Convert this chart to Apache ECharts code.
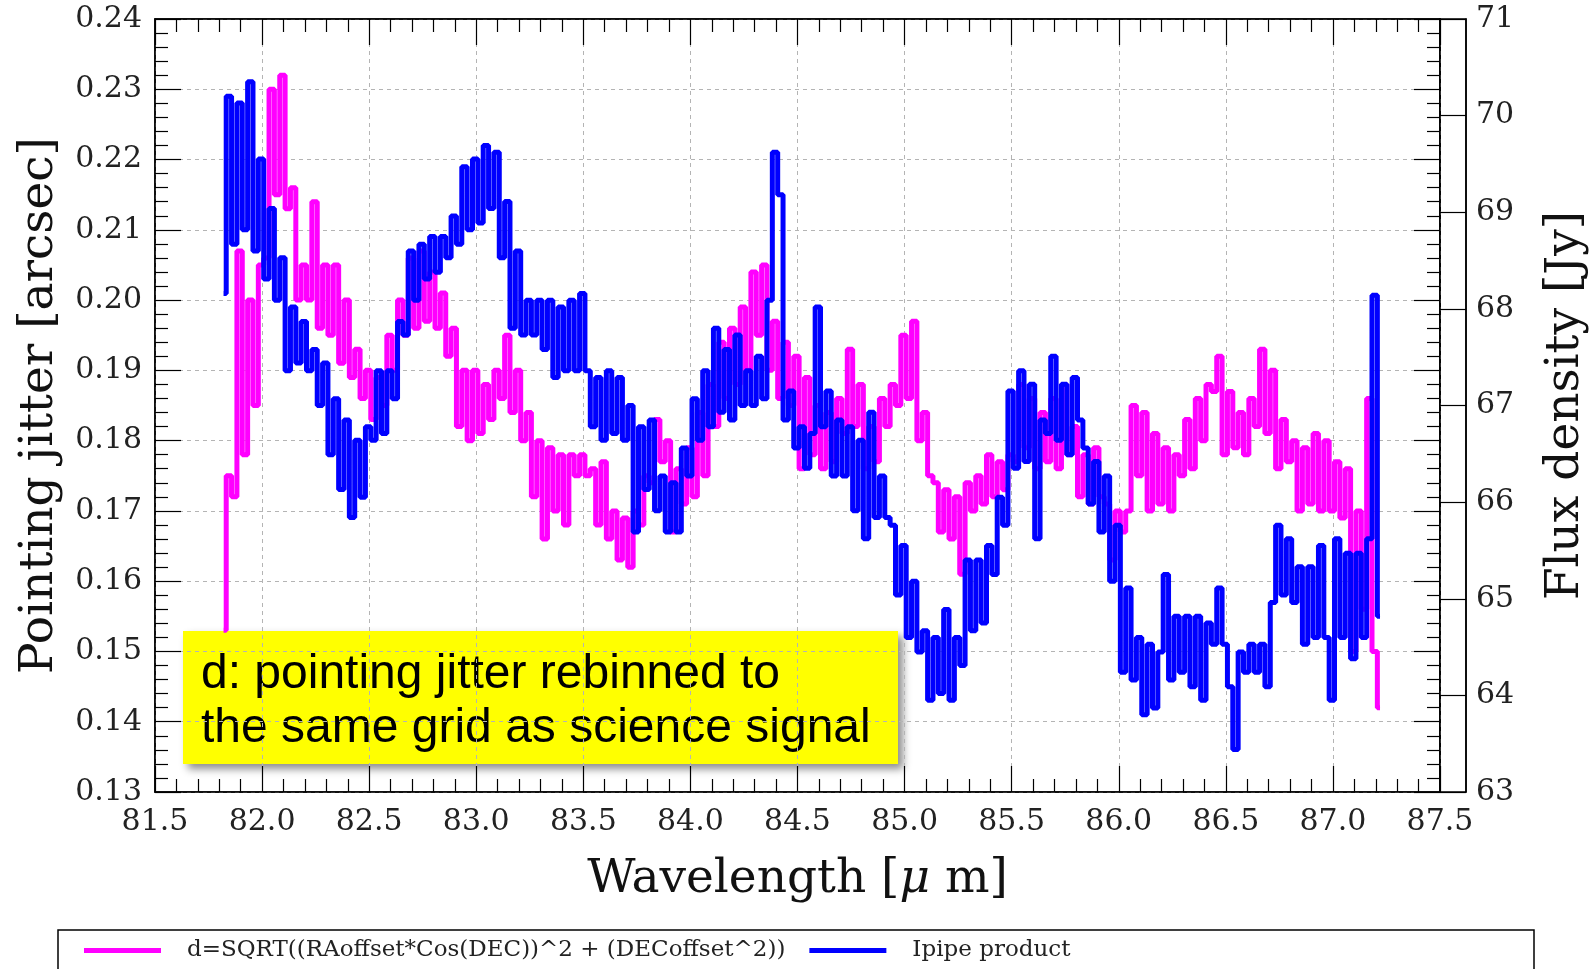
<!DOCTYPE html>
<html>
<head>
<meta charset="utf-8">
<script src="https://cdn.jsdelivr.net/npm/echarts@6/dist/echarts.min.js"></script>
<style>
html,body{margin:0;padding:0;background:#fff;}
#chart{width:1593px;height:969px;}
</style>
</head>
<body>
<div id="chart"></div>
<script>
// Wavelength grid (µm): first bin and bin width of the rebinned grid
const wlStart = 81.82;
const wlStep = 0.025;

// Pointing jitter d [arcsec] (left axis)
const jitter = [
0.153,0.175,0.172,0.207,0.178,0.200,0.185,0.205,0.206,0.230,
0.215,0.232,0.213,0.216,0.200,0.205,0.200,0.214,0.196,0.205,
0.195,0.205,0.191,0.200,0.189,0.193,0.186,0.190,0.183,0.189,
0.185,0.195,0.190,0.200,0.195,0.206,0.196,0.207,0.197,0.204,
0.196,0.201,0.192,0.196,0.182,0.190,0.180,0.190,0.181,0.188,
0.183,0.190,0.186,0.195,0.184,0.190,0.180,0.184,0.172,0.180,
0.166,0.179,0.170,0.178,0.168,0.178,0.175,0.178,0.175,0.176,
0.168,0.177,0.166,0.170,0.163,0.169,0.162,0.170,0.168,0.175,
0.174,0.183,0.177,0.180,0.167,0.176,0.171,0.179,0.172,0.184,
0.175,0.188,0.182,0.194,0.186,0.196,0.188,0.199,0.190,0.204,
0.195,0.205,0.190,0.197,0.186,0.194,0.185,0.192,0.176,0.189,
0.178,0.185,0.176,0.184,0.177,0.186,0.181,0.193,0.182,0.188,
0.176,0.182,0.177,0.186,0.182,0.188,0.185,0.195,0.186,0.197,
0.180,0.184,0.175,0.174,0.167,0.173,0.166,0.172,0.161,0.174,
0.170,0.175,0.171,0.178,0.172,0.177,0.173,0.178,0.177,0.188,
0.179,0.186,0.176,0.184,0.177,0.186,0.176,0.188,0.178,0.182,
0.172,0.178,0.171,0.179,0.172,0.171,0.163,0.170,0.167,0.170,
0.185,0.175,0.184,0.170,0.181,0.171,0.179,0.170,0.178,0.175,
0.183,0.176,0.186,0.180,0.188,0.187,0.192,0.178,0.187,0.179,
0.184,0.178,0.186,0.182,0.193,0.181,0.190,0.176,0.183,0.177,
0.180,0.170,0.179,0.171,0.181,0.170,0.180,0.170,0.177,0.169,
0.176,0.150,0.170,0.156,0.186,0.150,0.142
];

// Ipipe product flux density [Jy] (right axis)
const flux = [
68.16,70.20,68.67,70.13,68.82,70.35,68.60,69.55,68.31,69.04,
68.09,68.53,67.36,68.02,67.44,67.87,67.36,67.58,67.00,67.44,
66.49,67.07,66.13,66.85,65.84,66.64,66.05,66.78,66.64,67.36,
66.71,67.36,67.07,67.87,67.73,68.60,68.09,68.67,68.31,68.75,
68.38,68.75,68.53,68.96,68.67,69.47,68.82,69.55,68.89,69.69,
69.04,69.62,68.53,69.11,67.80,68.60,67.73,68.09,67.73,68.09,
67.58,68.09,67.29,68.02,67.36,68.09,67.36,68.16,67.36,66.78,
67.29,66.64,67.36,66.71,67.29,66.64,67.00,65.69,66.78,66.13,
66.85,65.91,66.27,65.69,66.20,65.69,66.56,66.27,67.07,66.64,
67.36,66.78,67.80,66.93,67.58,66.85,67.73,67.00,67.36,67.00,
67.51,67.07,68.09,69.62,69.18,66.85,67.15,66.56,66.78,66.35,
66.71,68.02,66.78,67.15,66.27,66.85,66.27,66.78,65.91,66.64,
65.62,66.93,65.84,66.27,65.84,65.76,65.04,65.55,64.60,65.18,
64.45,64.67,63.95,64.60,64.02,64.89,63.95,64.60,64.31,65.40,
64.67,65.40,64.75,65.55,65.25,66.05,65.76,67.15,66.35,67.36,
66.42,67.22,65.62,66.85,66.71,67.51,66.64,67.22,66.49,67.29,
66.85,66.56,65.98,66.42,65.69,66.27,65.18,65.76,64.24,65.11,
64.16,64.60,63.80,64.53,63.87,64.45,65.25,64.16,64.82,64.24,
64.82,64.09,64.82,63.95,64.75,64.53,65.11,64.53,64.09,63.44,
64.45,64.24,64.53,64.24,64.53,64.09,64.96,65.76,65.04,65.62,
64.96,65.33,64.53,65.33,64.60,65.55,64.60,63.95,65.62,64.60,
65.47,64.38,65.47,64.60,65.62,68.14,64.82
];

// Axis ranges / ticks
const xRange = [81.5, 87.5, 0.5];
const yLeftRange = [0.13, 0.24, 0.01];
const yRightRange = [63, 71, 1];

const seriesNames = ['d=SQRT((RAoffset*Cos(DEC))^2 + (DECoffset^2))', 'Ipipe product'];
const annotationText = ['d: pointing jitter rebinned to', 'the same grid as science signal'];
const titles = { x: '{n|Wavelength [}{i|\u03bc}{n| m]}', yLeft: 'Pointing jitter [arcsec]', yRight: 'Flux density [Jy]' };

const toPairs = arr => arr.map((v, i) => [+(wlStart + i * wlStep).toFixed(3), v]);

const SERIF = '"DejaVu Serif", serif';
const SANS = '"Liberation Sans", Arial, Helvetica, sans-serif';
const BLACK = '#000';
const gridLine = () => ({ show: true, lineStyle: { color: '#b4b4b4', width: 1, type: [4, 4] } });
const tickStyle = () => ({ color: BLACK, width: 1.2 });
const axisLineStyle = () => ({ show: true, onZero: false, lineStyle: { color: BLACK, width: 1.5 } });

const chart = echarts.init(document.getElementById('chart'), null, { renderer: 'canvas' });

const option = {
  animation: false,
  backgroundColor: '#fff',
  grid: [
    { left: 155, top: 19, width: 1285, height: 773, show: true, borderColor: BLACK, borderWidth: 1.5, backgroundColor: 'transparent', containLabel: false, outerBoundsMode: 'none' },
    { left: 1440, top: 19, width: 26, height: 773, show: true, borderColor: BLACK, borderWidth: 1.5, backgroundColor: 'transparent', containLabel: false, outerBoundsMode: 'none' }
  ],
  xAxis: [
    {
      type: 'value', gridIndex: 0, position: 'bottom',
      min: xRange[0], max: xRange[1], interval: xRange[2],
      axisLine: axisLineStyle(),
      axisTick: { show: true, inside: true, length: 26, lineStyle: tickStyle() },
      minorTick: { show: true, splitNumber: 5, length: 13, lineStyle: tickStyle() },
      axisLabel: { margin: 15, fontFamily: SERIF, fontSize: 30, color: '#222', formatter: v => v.toFixed(1) },
      splitLine: gridLine(),
      name: titles.x, nameLocation: 'middle', nameGap: 64,
      nameTextStyle: {
        fontFamily: SERIF, fontSize: 47, color: '#111',
        rich: {
          n: { fontFamily: SERIF, fontSize: 47, color: '#111' },
          i: { fontFamily: SERIF, fontSize: 47, color: '#111', fontStyle: 'italic' }
        }
      }
    },
    {
      type: 'value', gridIndex: 0, position: 'top',
      min: xRange[0], max: xRange[1], interval: xRange[2],
      axisLine: axisLineStyle(),
      axisTick: { show: true, inside: true, length: 26, lineStyle: tickStyle() },
      minorTick: { show: true, splitNumber: 5, length: 13, lineStyle: tickStyle() },
      axisLabel: { show: false }, splitLine: { show: false }
    },
    { type: 'value', gridIndex: 1, show: false, min: 0, max: 1 }
  ],
  yAxis: [
    {
      type: 'value', gridIndex: 0, position: 'left',
      min: yLeftRange[0], max: yLeftRange[1], interval: yLeftRange[2],
      axisLine: axisLineStyle(),
      axisTick: { show: true, inside: true, length: 26, lineStyle: tickStyle() },
      minorTick: { show: true, splitNumber: 5, length: 13, lineStyle: tickStyle() },
      axisLabel: { margin: 13, fontFamily: SERIF, fontSize: 30, color: '#222', formatter: v => v.toFixed(2) },
      splitLine: gridLine(),
      name: titles.yLeft, nameLocation: 'middle', nameRotate: 90, nameGap: 92,
      nameTextStyle: { fontFamily: SERIF, fontSize: 47, color: '#111' }
    },
    {
      type: 'value', gridIndex: 0, position: 'right', offset: 26,
      min: yRightRange[0], max: yRightRange[1], interval: yRightRange[2],
      axisLine: axisLineStyle(),
      axisTick: { show: true, inside: true, length: 26, lineStyle: tickStyle() },
      minorTick: { show: false },
      axisLabel: { margin: 10, fontFamily: SERIF, fontSize: 30, color: '#222', formatter: v => String(Math.round(v)) },
      splitLine: { show: false },
      name: titles.yRight, nameLocation: 'middle', nameRotate: 90, nameGap: 76,
      nameTextStyle: { fontFamily: SERIF, fontSize: 47, color: '#111' }
    },
    {
      type: 'value', gridIndex: 0, position: 'right', offset: 0,
      min: yLeftRange[0], max: yLeftRange[1], interval: yLeftRange[2],
      axisLine: axisLineStyle(),
      axisTick: { show: true, inside: true, length: 26, lineStyle: tickStyle() },
      minorTick: { show: true, splitNumber: 5, length: 13, lineStyle: tickStyle() },
      axisLabel: { show: false }, splitLine: { show: false }
    },
    { type: 'value', gridIndex: 1, show: false, min: 0, max: 1 }
  ],
  legend: {
    show: true, left: 79, top: 934, orient: 'horizontal',
    icon: 'rect', itemWidth: 77, itemHeight: 5, itemGap: 24,
    textStyle: { fontFamily: SERIF, fontSize: 23, color: '#222', padding: [0, 0, 0, 21] },
    data: seriesNames
  },
  series: [
    {
      name: seriesNames[0], type: 'line', xAxisIndex: 0, yAxisIndex: 0,
      step: 'middle', showSymbol: false, symbol: 'none',
      lineStyle: { color: '#ff00ff', width: 5 }, itemStyle: { color: '#ff00ff' },
      data: toPairs(jitter), z: 2
    },
    {
      name: seriesNames[1], type: 'line', xAxisIndex: 0, yAxisIndex: 1,
      step: 'middle', showSymbol: false, symbol: 'none',
      lineStyle: { color: '#0000ff', width: 5 }, itemStyle: { color: '#0000ff' },
      data: toPairs(flux), z: 3
    }
  ],
  graphic: [
    {
      type: 'group', z: 100,
      children: [
        {
          type: 'rect', shape: { x: 183, y: 631, width: 715, height: 133 },
          style: { fill: '#ffff00', shadowBlur: 8, shadowOffsetX: 5, shadowOffsetY: 5, shadowColor: 'rgba(0,0,0,0.45)' }
        },
        {
          type: 'text', x: 201, y: 648,
          style: { text: annotationText.join('\n'), font: '48px ' + SANS, fill: '#000', lineHeight: 54, verticalAlign: 'top', align: 'left' }
        }
      ]
    },
    {
      type: 'rect', z: 90, shape: { x: 58, y: 930, width: 1476, height: 80 },
      style: { fill: 'none', stroke: '#000', lineWidth: 1.5 }
    }
  ]
};

chart.setOption(option);
</script>
</body>
</html>
